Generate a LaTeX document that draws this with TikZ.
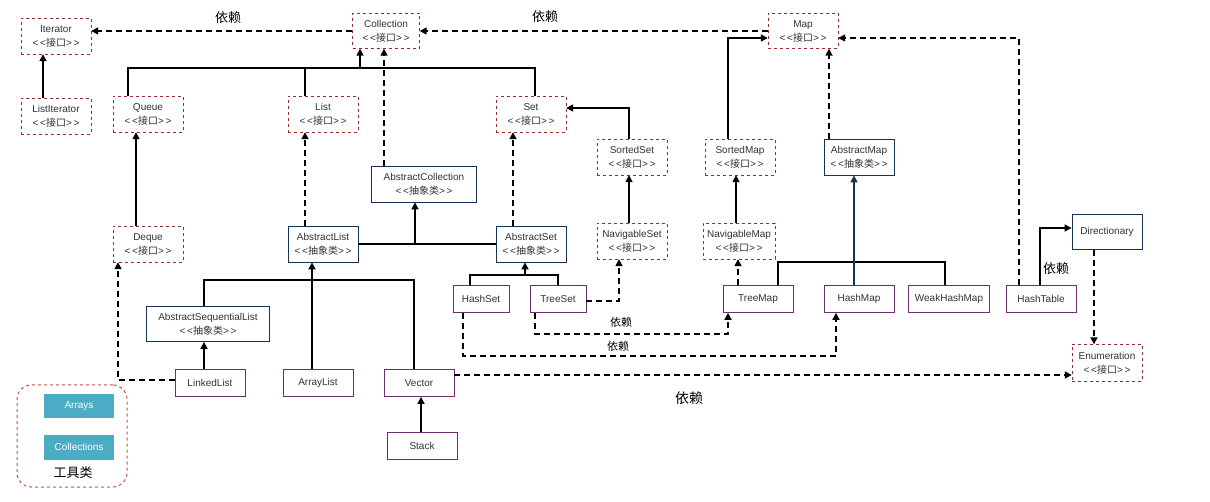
\documentclass[tikz,border=0pt]{standalone}
\usepackage{fontspec}
\setmainfont{Liberation Sans}
\newfontfamily\cjk{Noto Sans CJK SC}
\usepackage{tikz}
\usetikzlibrary{arrows.meta}
\definecolor{ifacered}{RGB}{150,45,45}
\definecolor{absnavy}{RGB}{23,50,85}
\definecolor{implpurple}{RGB}{110,45,110}
\definecolor{toolteal}{RGB}{75,172,198}
\definecolor{grpred}{RGB}{192,80,77}
\newcommand{\jk}{<\,<{\cjk 接口}>\,>}
\newcommand{\cx}{<\,<{\cjk 抽象类}>\,>}
\tikzset{
  box/.style={font=\fontsize{10}{14}\selectfont, text=black!80, align=center, inner sep=1pt, fill=white, minimum width=70pt},
  iface/.style={box, draw=ifacered, dashed, minimum height=36pt},
  absc/.style={box, draw=absnavy, line width=0.8pt, minimum height=36pt},
  impl/.style={box, draw=implpurple, line width=0.7pt, minimum height=27pt},
  toolbox/.style={fill=toolteal, text=white, font=\fontsize{10}{12}\selectfont, minimum width=70pt, minimum height=24pt},
  grpbox/.style={draw=grpred, dashed, line width=1pt, rounded corners=14pt, minimum width=110pt, minimum height=102pt},
  lbl/.style={font=\cjk\fontsize{13}{15}\selectfont},
  slbl/.style={font=\cjk\fontsize{11}{13}\selectfont},
  ln/.style={line width=1.6pt},
  ext/.style={ln, -{Triangle[length=7pt,width=7pt]}},
  dep/.style={ext, dash pattern=on 6pt off 4pt},
}

\begin{document}
\begin{tikzpicture}[x=1pt,y=-1pt]
  %%%%% START %%%%%
  \useasboundingbox (0,0) rectangle (1210,502);

  % interfaces
  \node[iface] (iterator) at (56,36) {Iterator\\\jk};
  \node[iface, minimum width=67pt, minimum height=35pt] (collection) at (386,31) {Collection\\\jk};
  \node[iface, minimum height=35pt] (map) at (803,31) {Map\\\jk};
  \node[iface] (listiter) at (56,116) {ListIterator\\\jk};
  \node[iface] (queue) at (148,114) {Queue\\\jk};
  \node[iface] (list) at (323,114) {List\\\jk};
  \node[iface] (set) at (531,114) {Set\\\jk};
  \node[iface] (sortedset) at (632,157) {SortedSet\\\jk};
  \node[iface] (sortedmap) at (740,157) {SortedMap\\\jk};
  \node[iface] (deque) at (148,244) {Deque\\\jk};
  \node[iface] (navset) at (632,241) {NavigableSet\\\jk};
  \node[iface, minimum width=72pt] (navmap) at (739,241) {NavigableMap\\\jk};
  \node[iface, minimum height=37pt] (enum) at (1107,363) {Enumeration\\\jk};

  % abstract classes
  \node[absc] (absmap) at (859,157) {AbstractMap\\\cx};
  \node[absc, minimum width=105pt] (abscoll) at (424,184) {AbstractCollection\\\cx};
  \node[absc] (abslist) at (323,244) {AbstractList\\\cx};
  \node[absc] (absset) at (531,244) {AbstractSet\\\cx};
  \node[absc, minimum height=35pt] (dict) at (1107,232) {Directionary};
  \node[absc, minimum width=123pt, minimum height=35pt] (asl) at (208,324) {AbstractSequentialList\\\cx};

  % classes
  \node[impl, minimum width=56pt] (hashset) at (481,299) {HashSet};
  \node[impl, minimum width=56pt] (treeset) at (558,299) {TreeSet};
  \node[impl] (treemap) at (758,299) {TreeMap};
  \node[impl] (hashmap) at (859,299) {HashMap};
  \node[impl, minimum width=81pt] (weakmap) at (949,299) {WeakHashMap};
  \node[impl] (hashtable) at (1041,299) {HashTable};
  \node[impl] (linked) at (210,383) {LinkedList};
  \node[impl] (arraylist) at (318,383) {ArrayList};
  \node[impl] (vector) at (419,383) {Vector};
  \node[impl] (stack) at (422,446) {Stack};

  % tools
  \node[grpbox] (tools) at (72,436) {};
  \node[toolbox] (arrays) at (79,406) {Arrays};
  \node[toolbox, minimum height=25pt] (colls) at (79,447) {Collections};
  \node[lbl] (toolname) at (73,473) {工具类};

  % Collection side
  \draw[dep] (collection.west) -- (collection.west -| iterator.east);
  \draw[ext] ([xshift=-13pt]listiter.north) -- ([xshift=-13pt]iterator.south);
  \coordinate (cbus) at (360,68);
  \draw[ln] ([xshift=-20pt]queue.north) |- (cbus) -| ([xshift=4pt]set.north);
  \draw[ln] ([xshift=-18pt]list.north) -- ([xshift=-18pt]list.north |- cbus);
  \draw[ext] (cbus) -- (cbus |- collection.south);
  \draw[dep] ([xshift=-40pt]abscoll.north) -- ([xshift=-2pt]collection.south);
  \draw[ext] ([xshift=-12pt]deque.north) -- ([xshift=-12pt]queue.south);
  \draw[dep] ([xshift=-18pt]abslist.north) -- ([xshift=-18pt]list.south);
  \draw[dep] ([xshift=-18pt]absset.north) -- ([xshift=-18pt]set.south);
  \coordinate (accin) at ([xshift=-9pt]abscoll.south);
  \draw[ln] (abslist.east) -- (absset.west);
  \draw[ext] (accin |- abslist.east) -- (accin);

  % Set side
  \draw[ext] ([xshift=-3pt]sortedset.north) |- ([yshift=6pt]set.east);
  \draw[ext] ([xshift=-3pt]navset.north) -- ([xshift=-3pt]sortedset.south);
  \draw[dep] ([yshift=-2pt]treeset.east) -| ([xshift=-13pt]navset.south);
  \coordinate (sbus) at (525,275);
  \draw[ln] ([xshift=-11pt]hashset.north) |- (sbus) -| (treeset.north);
  \draw[ext] (sbus) -- ([xshift=-6pt]absset.south);
  \draw[dep] ([xshift=-23pt]treeset.south) -- ++(0,21) -| ([xshift=-30pt]treemap.south);
  \draw[dep] ([xshift=-18pt]hashset.south) -- ++(0,43) -| ([xshift=-23pt]hashmap.south);

  % List side
  \draw[dep] ([yshift=3pt]linked.west) -| ([xshift=-30pt]deque.south);
  \draw[ext] ([xshift=-6pt]linked.north) -- ([xshift=-4pt]asl.south);
  \coordinate (lbus) at (312,280);
  \draw[ln] ([xshift=-4pt]asl.north) |- (lbus) -| ([xshift=-5pt]vector.north);
  \draw[ext] ([xshift=-6pt]arraylist.north) -- ([xshift=-11pt]abslist.south);
  \draw[ext] ([xshift=-1pt]stack.north) -- ([xshift=2pt]vector.south);
  \draw[dep] ([yshift=8pt]vector.east) -- ([yshift=-12pt]enum.west);

  % Map side
  \draw[dep] (map.west) -- (collection.east);
  \draw[ext] ([xshift=-12pt]sortedmap.north) |- ([yshift=-7pt]map.west);
  \draw[ext] ([xshift=-3pt]navmap.north) -- ([xshift=-4pt]sortedmap.south);
  \draw[dep] ([xshift=-20pt]treemap.north) -- ([xshift=-1pt]navmap.south);
  \draw[dep] ([xshift=-30pt]absmap.north) -- ([xshift=26pt]map.south);
  \draw[ln] ([xshift=20pt]treemap.north) -- ++(0,-23) -| ([xshift=-4pt]weakmap.north);
  \draw[ext, absnavy] ([xshift=-5pt]hashmap.north) -- ([xshift=-5pt]absmap.south);
  \draw[dep] ([xshift=-22pt]hashtable.north) |- ([yshift=-7pt]map.east);
  \draw[ext] ([xshift=-1pt]hashtable.north) |- ([yshift=4pt]dict.west);
  \draw[dep] ([xshift=-13pt]dict.south) -- ([xshift=-13pt]enum.north);

  % labels
  \node[lbl] (dep1) at (228,18) {依赖};
  \node[lbl] (dep2) at (545,17) {依赖};
  \node[lbl] (dep3) at (1056,269) {依赖};
  \node[slbl] (dep4) at (621,322) {依赖};
  \node[slbl] (dep5) at (618,346) {依赖};
  \node[lbl, font=\cjk\fontsize{14}{16}\selectfont] (dep6) at (689,398) {依赖};
  %%%%% END %%%%%
\end{tikzpicture}
\end{document}
